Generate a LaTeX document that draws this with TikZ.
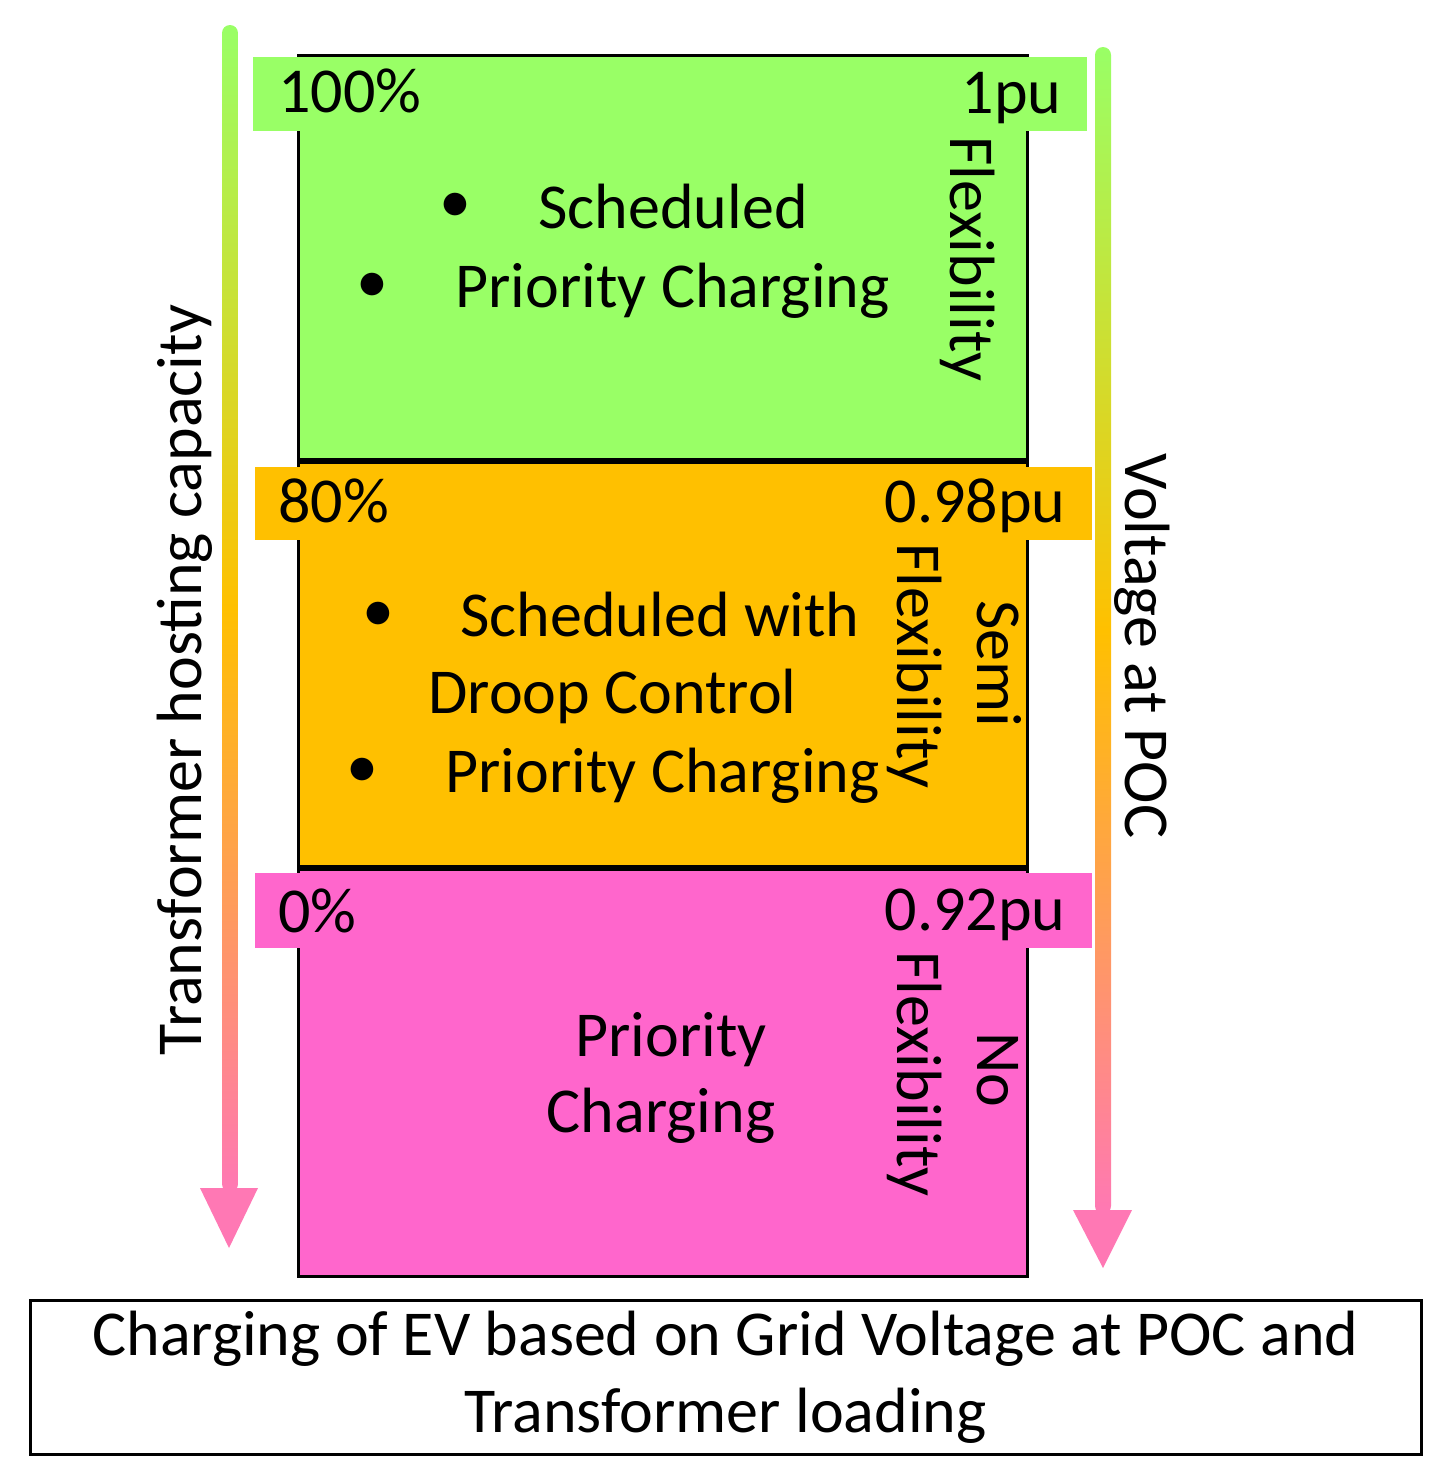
\documentclass[tikz,border=0pt]{standalone}
\usepackage{fontspec}
\setmainfont{Carlito}
\definecolor{boxgreen}{HTML}{99FF66}
\definecolor{boxorange}{HTML}{FFC000}
\definecolor{boxpink}{HTML}{FF66CC}
\definecolor{arrowpink}{HTML}{FF78B4}
\begin{document}
\begin{tikzpicture}[x=0.5pt, y=-0.5pt,
  every node/.style={font=\fontsize{32}{38.5}\selectfont, inner sep=0pt},
  zone/.style={fill=#1, draw=black, line width=1.5pt},
  band/.style={fill=#1, draw=none},
  lbl/.style={anchor=base west},
  rlbl/.style={anchor=base east},
  vtxt/.style={rotate=-90, anchor=base},
  bul/.style={anchor=center},
  shaft/.style={top color=boxgreen, bottom color=arrowpink, middle color=boxorange, rounded corners=4pt},
  head/.style={fill=arrowpink}]
\useasboundingbox (0,0) rectangle (1441,1479);
% gradient arrows
\shade[shaft] (222,25) rectangle (238,1192);
\fill[head] (200,1188) -- (258,1188) -- (229,1248) -- cycle;
\shade[shaft] (1095,47) rectangle (1111,1214);
\fill[head] (1073,1210) -- (1132,1210) -- (1103,1268) -- cycle;
% zones
\draw[zone=boxgreen] (298,55) rectangle (1027,459);
\draw[zone=boxorange] (298,462) rectangle (1027,866);
\draw[zone=boxpink] (298,869) rectangle (1027,1276);
% label bands
\fill[band=boxgreen] (253,57) rectangle (1087,131);
\fill[band=boxorange] (255,467) rectangle (1092,540);
\fill[band=boxpink] (255,873) rectangle (1092,948);
% band labels
\node[lbl] (p100) at (278,112) {100\%};
\node[rlbl] (v1) at (1062,113) {1pu};
\node[lbl] (p80) at (278,522) {80\%};
\node[rlbl] (v098) at (1066,522) {0.98pu};
\node[lbl] (p0) at (278,932) {0\%};
\node[rlbl] (v092) at (1066,930) {0.92pu};
% green zone
\node[bul] (b1) at (455,208) {•};
\node[lbl] (t1) at (538,228) {Scheduled};
\node[bul] (b2) at (372,288) {•};
\node[lbl] (t2) at (455,307) {Priority Charging};
\node[vtxt] (f1) at (950,259) {Flexibility};
% orange zone
\node[bul] (b3) at (378,617) {•};
\node[lbl] (t3) at (460,636) {Scheduled with};
\node[lbl] (t4) at (428,713) {Droop Control};
\node[bul] (b4) at (362,773) {•};
\node[lbl] (t5) at (445,792) {Priority Charging};
\node[vtxt] (s2) at (977,664) {Semi};
\node[vtxt] (f2) at (897,666) {Flexibility};
% pink zone
\node[anchor=base] (t6) at (671,1056) {Priority};
\node[anchor=base] (t7) at (661,1132) {Charging};
\node[vtxt] (n3) at (977,1070) {No};
\node[vtxt] (f3) at (897,1074) {Flexibility};
% axis labels
\node[vtxt] (volt) at (1125,646) {Voltage at POC};
\node[rotate=90, anchor=base] (trans) at (201,680) {Transformer hosting capacity};
% caption
\node[draw, line width=1.5pt, minimum width=695.5pt, minimum height=77pt, align=center] (cap) at (725.5,1377) {Charging of EV based on Grid Voltage at POC and\\Transformer loading};
\end{tikzpicture}
\end{document}
